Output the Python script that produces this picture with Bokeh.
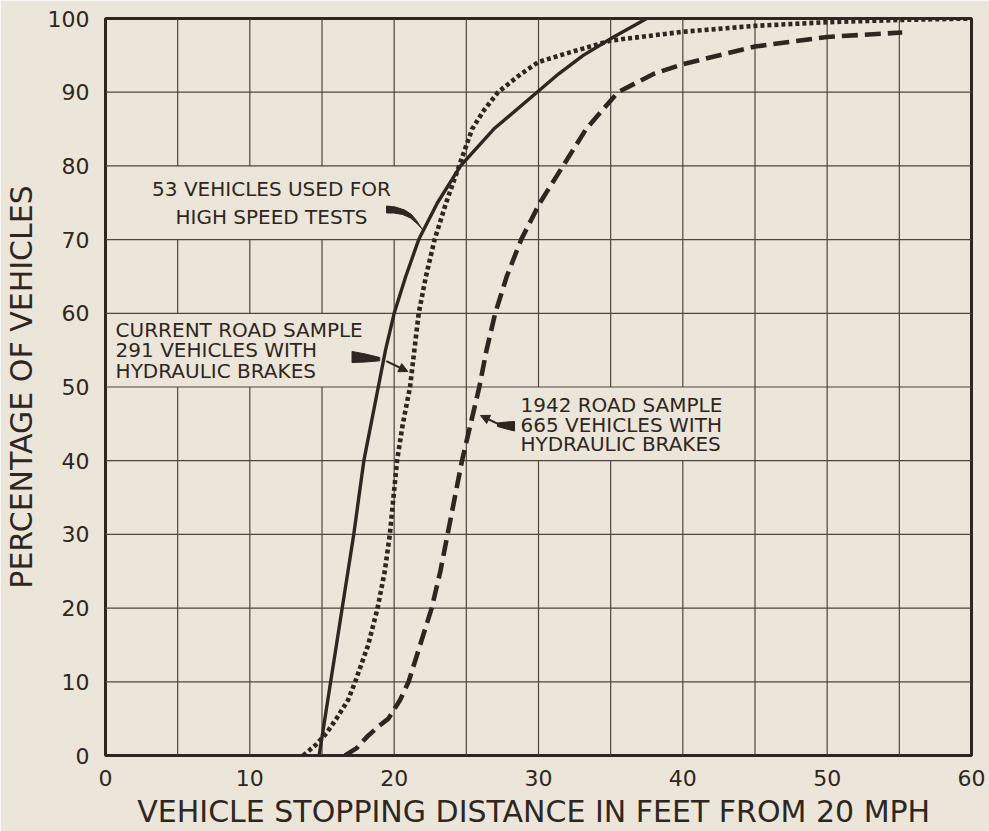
from bokeh.plotting import figure
from bokeh.models import Range1d, FixedTicker, Arrow, NormalHead
from bokeh.core.properties import value
from bokeh.embed import file_html
from bokeh.resources import INLINE

# Cumulative share of vehicles stopping within a given distance from 20 mph
high_speed_ft = [14.8, 15.2, 15.6, 16.0, 16.4, 16.8, 17.2, 17.55, 17.9, 18.4, 18.9, 19.4, 20.0,
                 20.8, 21.7, 23.0, 24.6, 26.9, 29.9, 31.4, 33.1, 35.2, 37.5]
high_speed_pct = [0, 5, 10, 15, 20, 25, 30, 35, 40, 45, 50, 55, 60,
                  65, 70, 75, 80, 85, 90, 92.5, 95, 97.5, 100]

current_ft = [13.7, 14.6, 15.3, 16.0, 16.8, 17.3, 18.2, 18.85, 19.35, 19.7, 19.95, 20.2, 20.6,
              21.1, 21.4, 21.7, 22.2, 22.8, 23.6, 24.5, 25.4, 26.2, 27.2, 28.8, 30.0, 32.0,
              35.0, 40.0, 45.0, 50.0, 55.0, 60.0]
current_pct = [0, 1.5, 3, 5, 7.5, 10, 15, 20, 25, 30, 35, 40, 45,
               50, 55, 60, 65, 70, 75, 80, 85, 87.5, 90, 92.5, 94.1, 95.3,
               97.0, 98.2, 99.0, 99.5, 99.8, 100]

road1942_ft = [16.6, 17.4, 18.1, 18.95, 19.6, 20.4, 21.0, 21.8, 22.6, 23.2, 23.7, 24.2, 24.7,
               25.3, 25.9, 26.4, 27.0, 27.8, 28.8, 30.1, 31.7, 33.3, 35.5, 38.0, 40.0,
               45.0, 50.0, 55.2]
road1942_pct = [0, 1, 2.5, 4, 5, 7.5, 10, 15, 20, 25, 30, 35, 40,
                45, 50, 55, 60, 65, 70, 75, 80, 85, 90, 92.5, 93.8,
                96.2, 97.5, 98.1]

x_ticks = [0, 10, 20, 30, 40, 50, 60]
y_ticks = [0, 10, 20, 30, 40, 50, 60, 70, 80, 90, 100]
x_grid = [5, 10, 15, 20, 25, 30, 35, 40, 45, 50, 55]
y_grid = [10, 20, 30, 40, 50, 60, 70, 80, 90]

x_title = "VEHICLE STOPPING DISTANCE IN FEET FROM  20 MPH"
y_title = "PERCENTAGE OF VEHICLES"
label_high_speed = ["53 VEHICLES USED FOR", "HIGH SPEED TESTS"]
label_current = ["CURRENT ROAD SAMPLE", "291 VEHICLES  WITH", "HYDRAULIC  BRAKES"]
label_1942 = ["1942  ROAD  SAMPLE", "665 VEHICLES WITH", "HYDRAULIC  BRAKES"]

PAPER = "#ece6da"
INK = "#2f2621"
GRID = "#4f453e"
FONT = "DejaVu Sans"

p = figure(width=989, height=831, x_range=Range1d(0, 60), y_range=Range1d(0, 100),
           output_backend="svg", toolbar_location=None,
           min_border_left=105, min_border_right=18, min_border_top=18, min_border_bottom=76,
           background_fill_color=PAPER, border_fill_color=PAPER)
p.grid.visible = False
p.outline_line_color = INK
p.outline_line_width = 3

# vertical rulings, then clear panels behind the captions, then horizontal rulings
p.segment(x0=x_grid, y0=0, x1=x_grid, y1=100, line_color=GRID, line_width=1.2)
p.quad(left=[0.15, 0.15, 27.5], right=[21.2, 17.6, 43.2], bottom=[70, 50, 40], top=[80, 60, 50],
       fill_color=PAPER, line_color=None)
p.segment(x0=0, y0=y_grid, x1=60, y1=y_grid, line_color=GRID, line_width=1.2)

# distribution curves
p.line(high_speed_ft, high_speed_pct, line_color=INK, line_width=3.4,
       line_cap="round", line_join="round")
p.line(current_ft, current_pct, line_color=INK, line_width=4.6, line_dash="4 3",
       line_join="round")
p.line(road1942_ft, road1942_pct, line_color=INK, line_width=4.6, line_dash="16 7",
       line_join="round")

# captions
p.text(x=[11.5, 11.5], y=[76.9, 73.1], text=label_high_speed, text_font=value(FONT),
       text_font_size="20px", text_color=INK, text_align="center", text_baseline="middle")
p.text(x=[0.7, 0.7, 0.7], y=[57.7, 55.0, 52.2], text=label_current, text_font=value(FONT),
       text_font_size="20px", text_color=INK, text_align="left", text_baseline="middle")
p.text(x=[28.75, 28.75, 28.75], y=[47.6, 44.9, 42.2], text=label_1942, text_font=value(FONT),
       text_font_size="20px", text_color=INK, text_align="left", text_baseline="middle")

# pointer flags
p.patch([19.47, 20.09, 20.72, 21.20, 21.55, 21.93, 21.58, 21.13, 20.58, 19.95, 19.47],
        [74.56, 74.42, 74.02, 73.41, 72.59, 71.44, 72.18, 72.93, 73.41, 73.61, 73.61],
        fill_color=INK, line_color=INK, line_width=1)
p.patch([17.08, 18.01, 19.0, 19.0, 18.01, 17.08],
        [54.82, 54.48, 54.0, 53.55, 53.39, 53.32],
        fill_color=INK, line_color=INK, line_width=1)
p.add_layout(Arrow(x_start=19.45, y_start=53.5, x_end=20.95, y_end=52.1,
                   line_color=INK, line_width=2,
                   end=NormalHead(size=9, fill_color=INK, line_color=INK)))
p.patch([27.16, 27.78, 28.34, 28.34, 27.78, 27.16],
        [45.12, 45.25, 45.32, 44.03, 44.30, 44.64],
        fill_color=INK, line_color=INK, line_width=1)
p.add_layout(Arrow(x_start=27.3, y_start=44.9, x_end=25.98, y_end=46.13,
                   line_color=INK, line_width=2,
                   end=NormalHead(size=9, fill_color=INK, line_color=INK)))

for ax in (p.xaxis[0], p.yaxis[0]):
    ax.axis_line_color = None
    ax.major_tick_line_color = None
    ax.minor_tick_line_color = None
    ax.major_tick_out = 0
    ax.major_tick_in = 0
    ax.major_label_text_font = FONT
    ax.major_label_text_font_size = "22px"
    ax.major_label_text_color = INK
    ax.axis_label_text_font = FONT
    ax.axis_label_text_font_size = "30px"
    ax.axis_label_text_font_style = "normal"
    ax.axis_label_text_color = INK

p.xaxis.ticker = FixedTicker(ticks=x_ticks)
p.yaxis.ticker = FixedTicker(ticks=y_ticks)
p.xaxis.axis_label = x_title
p.yaxis.axis_label = y_title
p.xaxis.major_label_standoff = 14
p.yaxis.major_label_standoff = 16
p.xaxis.axis_label_standoff = 5
p.yaxis.axis_label_standoff = 6

open("out.html", "w").write(file_html(p, INLINE))
